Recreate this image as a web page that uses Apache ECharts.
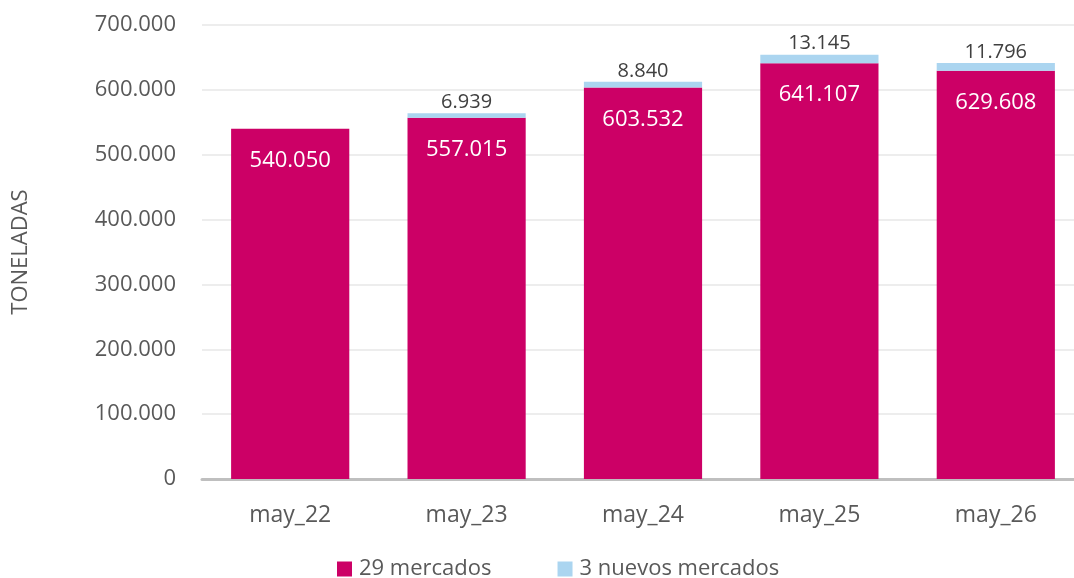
<!DOCTYPE html>
<html><head><meta charset="utf-8">
<script src="https://cdn.jsdelivr.net/npm/echarts@6/dist/echarts.min.js"></script>
<style>html,body{margin:0;padding:0;background:#fff}#c{width:1074px;height:578px}</style>
</head><body><div id="c"></div>
<script>
const categories = ['may_22','may_23','may_24','may_25','may_26'];
const mercados29 = [540050, 557015, 603532, 641107, 629608];
const nuevos3 = [null, 6939, 8840, 13145, 11796];
const seriesNames = ['29 mercados', '3 nuevos mercados'];
const axisName = 'TONELADAS';

function fmt(v){ return String(Math.round(v)).replace(/\B(?=(\d{3})+(?!\d))/g,'.'); }
const FONT = '"Open Sans", "Noto Sans", sans-serif';
const chart = echarts.init(document.getElementById('c'));
chart.setOption({
  animation:false,
  textStyle:{fontFamily:FONT},
  grid:{left:202, top:25, width:882, bottom:99, containLabel:false, outerBoundsMode:'none'},
  legend:{
    bottom:-7, left:332, itemWidth:15, itemHeight:15, itemGap:66, icon:'rect',
    textStyle:{fontFamily:FONT, fontSize:22, color:'#595959', padding:[0,0,0,2]},
    data:seriesNames
  },
  xAxis:{
    type:'category', data:categories,
    axisLine:{lineStyle:{color:'#BFBFBF', width:3}},
    axisTick:{show:false},
    axisLabel:{fontFamily:FONT, fontSize:23, color:'#595959', margin:25}
  },
  yAxis:{
    type:'value', min:0, max:700000, interval:100000,
    name:axisName, nameLocation:'middle', nameGap:170, nameRotate:90,
    nameTextStyle:{fontFamily:FONT, fontSize:22, color:'#595959'},
    axisLabel:{fontFamily:FONT, fontSize:22, color:'#595959', margin:26, formatter:fmt},
    splitLine:{lineStyle:{color:'#EDEDED', width:2}},
    axisLine:{show:false}, axisTick:{show:false}
  },
  series:[
    {name:seriesNames[0], type:'bar', stack:'t', data:mercados29, barCategoryGap:'33%',
     itemStyle:{color:'#CC0066'},
     label:{show:true, position:'insideTop', distance:21, color:'#fff', fontSize:22, fontFamily:FONT,
            formatter:p=>fmt(p.value)}},
    {name:seriesNames[1], type:'bar', stack:'t', data:nuevos3,
     itemStyle:{color:'#ABD5F0'},
     label:{show:true, position:'top', distance:1, color:'#404040', fontSize:20, fontFamily:FONT,
            formatter:p=>p.value==null?'':fmt(p.value)}}
  ]
});
</script></body></html>
